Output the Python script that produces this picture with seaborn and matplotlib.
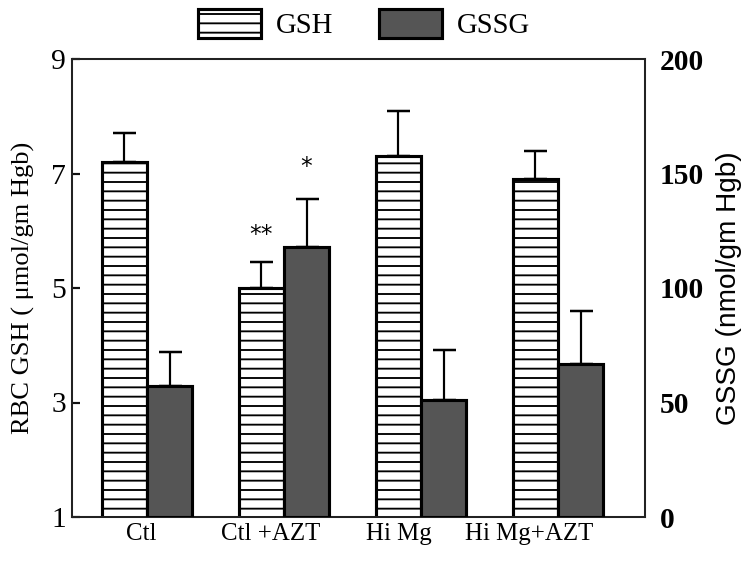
import numpy as np
import pandas as pd
import matplotlib
matplotlib.use("Agg")
import matplotlib.pyplot as plt
import seaborn as sns
from matplotlib.patches import Patch
from matplotlib.transforms import ScaledTranslation

# ---- data ----
groups = ["Ctl", "Ctl +AZT", "Hi Mg", "Hi Mg+AZT"]
gsh_mean = [7.2, 5.0, 7.3, 6.9]
gsh_err = [0.5, 0.45, 0.8, 0.5]
gssg_mean = [57, 118, 51, 67]
gssg_err = [15, 21, 22, 23]
gsh_sig = ["", "**", "", ""]
gssg_sig = ["", "*", "", ""]
left_ticks = [1, 3, 5, 7, 9]
right_ticks = [0, 50, 100, 150, 200]
series_names = ["GSH", "GSSG"]

# ---- style ----
DPI = 112
sns.set_theme(style="ticks")
plt.rcParams["font.family"] = ["Liberation Serif", "DejaVu Serif"]
plt.rcParams["hatch.linewidth"] = 1.2
plt.rcParams["hatch.color"] = "black"
plt.rcParams["ytick.left"] = True
plt.rcParams["ytick.direction"] = "in"

def px(v):
    return v * 72.0 / DPI

fig = plt.figure(figsize=(750 / DPI, 571 / DPI), dpi=DPI)
ax1 = fig.add_axes([72 / 750, 1 - 517 / 571, (645 - 72) / 750, (517 - 59) / 571])
ax2 = ax1.twinx()

df = pd.DataFrame({
    "group": groups * 2,
    "series": [series_names[0]] * len(groups) + [series_names[1]] * len(groups),
    "value": gsh_mean + gssg_mean,
})
palette = {"GSH": "white", "GSSG": "#555555"}

for ax, name in [(ax1, "GSH"), (ax2, "GSSG")]:
    sns.barplot(data=df[df.series == name], x="group", y="value", hue="series",
                hue_order=series_names, order=groups, palette=palette, dodge=True,
                width=0.66, errorbar=None, edgecolor="black", linewidth=2.0,
                legend=False, ax=ax, zorder=3)

def bars_of(ax):
    rects = [p for c in ax.containers for p in c
             if np.isfinite(p.get_height()) and p.get_height() > 0]
    return sorted(rects, key=lambda p: p.get_x())

for p in bars_of(ax1):
    p.set_hatch("--")

for ax, means, errs, sig, off in [(ax1, gsh_mean, gsh_err, gsh_sig, 28),
                                   (ax2, gssg_mean, gssg_err, gssg_sig, 32)]:
    xs = [p.get_x() + p.get_width() / 2 for p in bars_of(ax)]
    ax.errorbar(xs, means, yerr=[np.zeros(len(errs)), errs], fmt="none",
                ecolor="black", elinewidth=1.4, capsize=px(11.5), capthick=1.6,
                zorder=2)
    for x, m, e, s in zip(xs, means, errs, sig):
        if s:
            ax.annotate(s, xy=(x, m + e), xytext=(0, px(off)), textcoords="offset points",
                        ha="center", va="center", fontsize=15, family="DejaVu Sans",
                        color="black")

# axes limits / ticks
ax1.set_xlim(-0.547, 3.635)
ax1.set_ylim(left_ticks[0], left_ticks[-1])
ax1.set_yticks(left_ticks)
ax2.set_ylim(right_ticks[0], right_ticks[-1])
ax2.set_yticks(right_ticks)
ax2.set_yticklabels([str(t) for t in right_ticks], fontweight="bold")

ax1.set_xticks(range(len(groups)))
ax1.set_xticklabels(groups, fontsize=16)
ax1.set_xlabel("")
ax2.set_xlabel("")

ax1.set_ylabel("RBC GSH ( \u03bcmol/gm Hgb)", fontsize=17, labelpad=px(16), color="black")
ax2.set_ylabel("GSSG (nmol/gm Hgb)", fontsize=18, family="Liberation Sans",
               labelpad=px(12), color="black")

for ax in (ax1, ax2):
    for s in ax.spines.values():
        s.set_color("#222222")
        s.set_linewidth(1.3)
    ax.grid(False)

ax1.tick_params(axis="x", which="both", bottom=False, top=False, length=0,
                pad=px(6), labelcolor="black")
ax2.tick_params(axis="x", which="both", bottom=False, top=False, length=0)
ax1.yaxis.set_ticks_position("left")
ax1.tick_params(axis="y", which="major", direction="in", length=px(8), width=1.4,
                labelsize=19, pad=px(6), left=True, right=False, color="#111111",
                labelcolor="black")
ax2.tick_params(axis="y", length=0, labelsize=19, pad=px(15), labelcolor="black")

label_shift_px = [-6, -13, -22, -29]
for lbl, dx in zip(ax1.get_xticklabels(), label_shift_px):
    lbl.set_transform(lbl.get_transform() + ScaledTranslation(dx / DPI, 0, fig.dpi_scale_trans))

handles = [Patch(facecolor="white", edgecolor="black", hatch="--", linewidth=2.0),
           Patch(facecolor=palette["GSSG"], edgecolor="black", linewidth=2.0)]
fig.legend(handles, series_names, loc="center", bbox_to_anchor=(364 / 750, 1 - 24 / 571),
           ncol=2, frameon=False, fontsize=18.5, handlelength=2.2, handleheight=1.2,
           handletextpad=0.5, columnspacing=1.6, borderpad=0, labelcolor="black")

fig.savefig("out.png", dpi=DPI)
